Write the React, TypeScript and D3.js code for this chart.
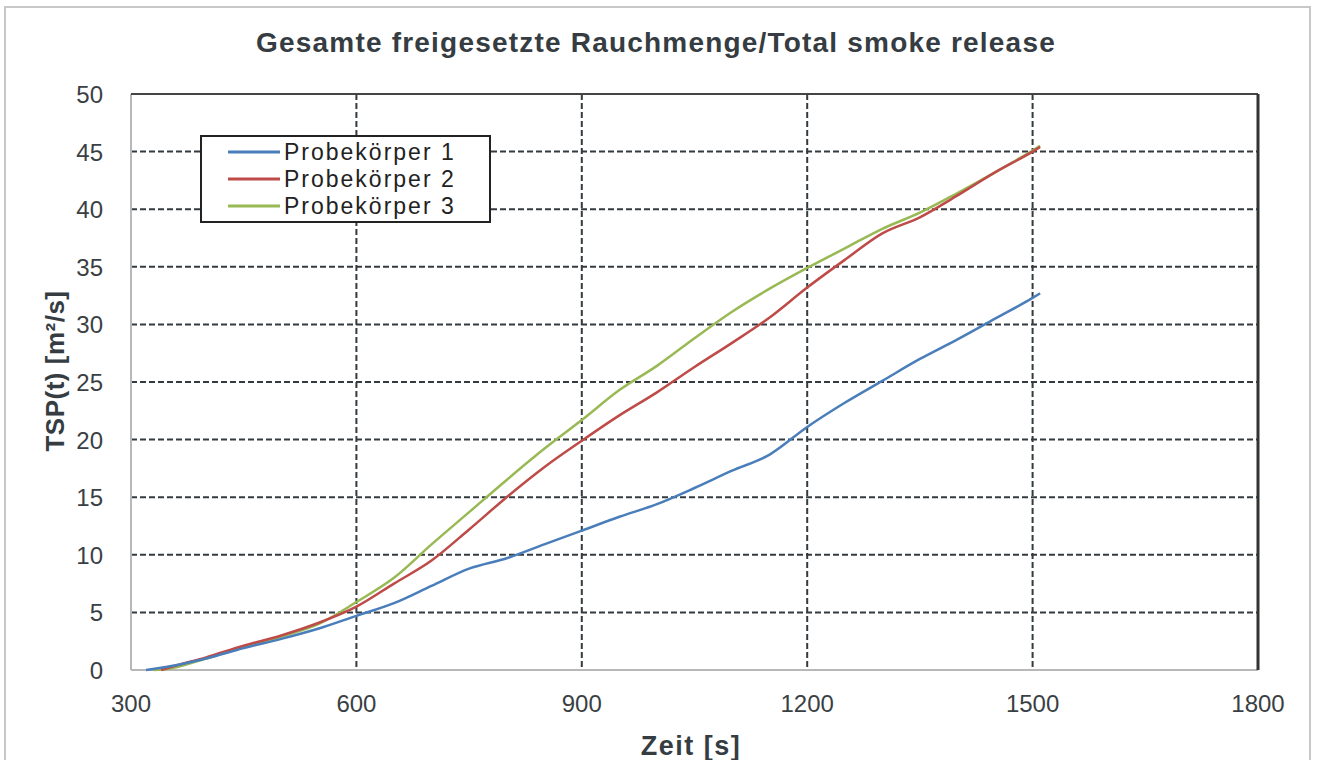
import React, { useEffect, useRef } from "react";
import * as d3 from "d3";

// values (time in s, TSP in m²/s)
const timeBlue = [320, 350, 400, 450, 500, 550, 600, 650, 700, 750, 800, 850, 900, 950, 1000, 1050, 1100, 1150, 1200, 1250, 1300, 1350, 1400, 1450, 1500, 1510];
const probe1 = [0, 0.3, 1.0, 1.9, 2.7, 3.6, 4.7, 5.8, 7.3, 8.8, 9.7, 10.9, 12.1, 13.3, 14.4, 15.8, 17.3, 18.7, 21.1, 23.2, 25.1, 27.0, 28.7, 30.5, 32.3, 32.7];

const timeRed = [340, 350, 400, 450, 500, 550, 600, 650, 700, 750, 800, 850, 900, 950, 1000, 1050, 1100, 1150, 1200, 1250, 1300, 1350, 1400, 1450, 1500, 1510];
const probe2 = [0, 0.2, 1.1, 2.1, 3.0, 4.1, 5.5, 7.5, 9.5, 12.2, 15.0, 17.6, 19.9, 22.1, 24.1, 26.3, 28.4, 30.6, 33.2, 35.6, 37.9, 39.3, 41.2, 43.2, 45.0, 45.4];

const timeGreen = [330, 350, 400, 450, 500, 550, 600, 650, 700, 750, 800, 850, 900, 950, 1000, 1050, 1100, 1150, 1200, 1250, 1300, 1350, 1400, 1450, 1500, 1510];
const probe3 = [0, 0.1, 1.0, 2.0, 2.9, 4.0, 5.9, 8.0, 10.9, 13.7, 16.5, 19.2, 21.7, 24.3, 26.4, 28.8, 31.1, 33.1, 34.9, 36.6, 38.3, 39.7, 41.4, 43.2, 45.1, 45.5];

const seriesNames = ["Probekörper 1", "Probekörper 2", "Probekörper 3"];
const seriesColors = ["#4a7ebb", "#be4b48", "#98b954"];
const xTicks = [300, 600, 900, 1200, 1500, 1800];
const yTicks = [0, 5, 10, 15, 20, 25, 30, 35, 40, 45, 50];

const App = () => {
  const ref = useRef<SVGSVGElement>(null);

  useEffect(() => {
    const width = 1320;
    const height = 760;
    const margin = { top: 94, right: 62, bottom: 90, left: 131 };
    const innerWidth = width - margin.left - margin.right;
    const innerHeight = height - margin.top - margin.bottom;

    const svg = d3.select(ref.current);
    svg.selectAll("*").remove();
    svg.attr("width", width).attr("height", height).style("font-family", "'Liberation Sans', Arial, sans-serif");

    svg.append("rect").attr("width", width).attr("height", height).attr("fill", "#fff");
    // outer chart frame
    svg.append("rect").attr("x", 5).attr("y", 7).attr("width", 1305).attr("height", 770)
      .attr("fill", "none").attr("stroke", "#c8c8c8").attr("stroke-width", 2);

    const xScale = d3.scaleLinear().domain([300, 1800]).range([0, innerWidth]);
    const yScale = d3.scaleLinear().domain([0, 50]).range([innerHeight, 0]);

    const g = svg.append("g").attr("transform", `translate(${margin.left}, ${margin.top})`);

    // grid lines
    g.selectAll(".hgrid").data(yTicks.filter(d => d > 0 && d < 50)).join("line").attr("class", "hgrid")
      .attr("x1", 0).attr("x2", innerWidth)
      .attr("y1", d => yScale(d)).attr("y2", d => yScale(d))
      .attr("stroke", "#333b40").attr("stroke-width", 2).attr("stroke-dasharray", "6,3");
    g.selectAll(".vgrid").data(xTicks.filter(d => d > 300 && d < 1800)).join("line").attr("class", "vgrid")
      .attr("y1", 0).attr("y2", innerHeight)
      .attr("x1", d => xScale(d)).attr("x2", d => xScale(d))
      .attr("stroke", "#333b40").attr("stroke-width", 2).attr("stroke-dasharray", "6,3");

    // plot frame: light left/bottom axes, dark top/right
    g.append("line").attr("x1", 0).attr("x2", 0).attr("y1", 0).attr("y2", innerHeight).attr("stroke", "#b8b8b8").attr("stroke-width", 2);
    g.append("line").attr("x1", 0).attr("x2", innerWidth).attr("y1", innerHeight).attr("y2", innerHeight).attr("stroke", "#b8b8b8").attr("stroke-width", 2);
    g.append("line").attr("x1", 0).attr("x2", innerWidth).attr("y1", 0).attr("y2", 0).attr("stroke", "#444").attr("stroke-width", 2);
    g.append("line").attr("x1", innerWidth).attr("x2", innerWidth).attr("y1", 0).attr("y2", innerHeight).attr("stroke", "#333").attr("stroke-width", 3);

    // tick labels
    g.selectAll(".ylab").data(yTicks).join("text").attr("class", "ylab")
      .attr("x", -28).attr("y", d => yScale(d) + 9)
      .attr("text-anchor", "end").attr("font-size", 24).attr("fill", "#3a3f44")
      .text(d => d);
    g.selectAll(".xlab").data(xTicks).join("text").attr("class", "xlab")
      .attr("x", d => xScale(d)).attr("y", innerHeight + 42)
      .attr("text-anchor", "middle").attr("font-size", 24).attr("fill", "#3a3f44")
      .text(d => d);

    // curves
    const line = d3.line<[number, number]>().x(d => xScale(d[0])).y(d => yScale(d[1])).curve(d3.curveMonotoneX);
    const allSeries = [
      d3.zip(timeBlue, probe1),
      d3.zip(timeRed, probe2),
      d3.zip(timeGreen, probe3),
    ];
    // draw green first, then red, then blue like the reference layering
    [2, 1, 0].forEach(i => {
      g.append("path").datum(allSeries[i] as [number, number][])
        .attr("d", line).attr("fill", "none")
        .attr("stroke", seriesColors[i]).attr("stroke-width", 2.5);
    });

    // titles
    svg.append("text").attr("x", 656).attr("y", 52).attr("text-anchor", "middle")
      .attr("font-size", 28).attr("font-weight", "bold").attr("fill", "#353c42").attr("letter-spacing", 1.2)
      .text("Gesamte freigesetzte Rauchmenge/Total smoke release");
    svg.append("text").attr("transform", `translate(64, 371) rotate(-90)`)
      .attr("text-anchor", "middle").attr("font-size", 26).attr("font-weight", "bold").attr("fill", "#353c42").attr("letter-spacing", 0.5)
      .text("TSP(t) [m²/s]");
    svg.append("text").attr("x", 691).attr("y", 755).attr("text-anchor", "middle")
      .attr("font-size", 27).attr("font-weight", "bold").attr("fill", "#353c42").attr("letter-spacing", 1.5)
      .text("Zeit [s]");

    // legend
    const legend = svg.append("g").attr("transform", "translate(201, 136)");
    legend.append("rect").attr("width", 289).attr("height", 86).attr("fill", "#fff").attr("stroke", "#222").attr("stroke-width", 2);
    seriesNames.forEach((name, i) => {
      const y = 16 + i * 27;
      legend.append("line").attr("x1", 27).attr("x2", 79).attr("y1", y).attr("y2", y)
        .attr("stroke", seriesColors[i]).attr("stroke-width", 3);
      legend.append("text").attr("x", 83).attr("y", y + 8).attr("font-size", 23).attr("letter-spacing", 2).attr("fill", "#222")
        .text(name);
    });
  }, []);

  return (
    <svg ref={ref} style={{ position: "absolute", left: 0, top: 0, display: "block" }}></svg>
  );
};

export default App;
